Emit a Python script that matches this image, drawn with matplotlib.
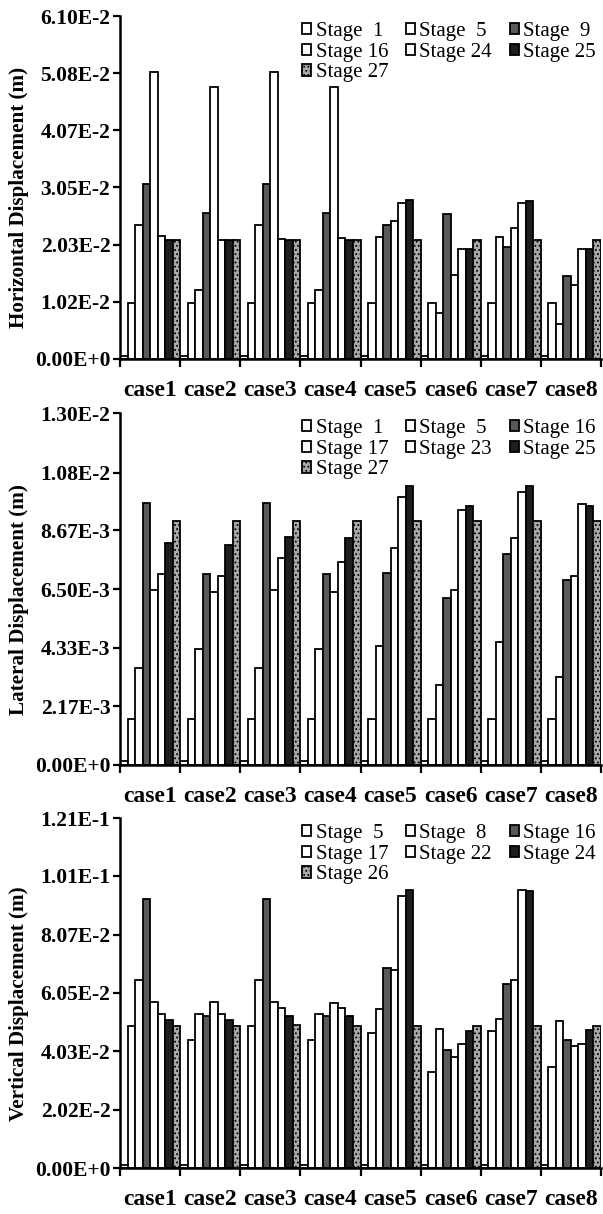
import matplotlib
matplotlib.use("Agg")
import matplotlib.pyplot as plt
import numpy as np

cases = ["case1", "case2", "case3", "case4", "case5", "case6", "case7", "case8"]

# ---- Panel 1: Horizontal displacement ----
h_labels = ["Stage  1", "Stage  5", "Stage  9", "Stage 16", "Stage 24", "Stage 25", "Stage 27"]
h_base = [0.0005] * 8
h_s1 = [0.0100, 0.0100, 0.0100, 0.0100, 0.0100, 0.0100, 0.0100, 0.0100]
h_s5 = [0.0239, 0.0122, 0.0239, 0.0122, 0.0217, 0.0082, 0.0217, 0.0062]
h_s9 = [0.0311, 0.0259, 0.0311, 0.0259, 0.0239, 0.0257, 0.0199, 0.0147]
h_s16 = [0.0510, 0.0484, 0.0510, 0.0484, 0.0245, 0.0150, 0.0233, 0.0131]
h_s24 = [0.0218, 0.0212, 0.0214, 0.0216, 0.0278, 0.0195, 0.0278, 0.0195]
h_s25 = [0.0212, 0.0212, 0.0212, 0.0212, 0.0282, 0.0195, 0.0281, 0.0195]
h_s27 = [0.0212, 0.0212, 0.0212, 0.0212, 0.0212, 0.0212, 0.0212, 0.0212]
h_ticks = [0.0, 0.0102, 0.0203, 0.0305, 0.0407, 0.0508, 0.0610]
h_ticklabels = ["0.00E+0", "1.02E-2", "2.03E-2", "3.05E-2", "4.07E-2", "5.08E-2", "6.10E-2"]

# ---- Panel 2: Lateral displacement ----
l_labels = ["Stage  1", "Stage  5", "Stage 16", "Stage 17", "Stage 23", "Stage 25", "Stage 27"]
l_base = [0.00013] * 8
l_s1 = [0.00171, 0.00171, 0.00171, 0.00171, 0.00171, 0.00171, 0.00171, 0.00171]
l_s5 = [0.00357, 0.00428, 0.00357, 0.00428, 0.00438, 0.00297, 0.00455, 0.00324]
l_s16 = [0.00967, 0.00704, 0.00967, 0.00704, 0.00710, 0.00618, 0.00781, 0.00685]
l_s17 = [0.00646, 0.00640, 0.00646, 0.00640, 0.00802, 0.00645, 0.00838, 0.00698]
l_s23 = [0.00704, 0.00698, 0.00765, 0.00750, 0.00991, 0.00942, 0.01010, 0.00965]
l_s25 = [0.00820, 0.00812, 0.00841, 0.00838, 0.01031, 0.00955, 0.01031, 0.00955]
l_s27 = [0.00900, 0.00900, 0.00900, 0.00900, 0.00900, 0.00900, 0.00900, 0.00900]
l_ticks = [0.0, 0.00217, 0.00433, 0.00650, 0.00867, 0.0108, 0.0130]
l_ticklabels = ["0.00E+0", "2.17E-3", "4.33E-3", "6.50E-3", "8.67E-3", "1.08E-2", "1.30E-2"]

# ---- Panel 3: Vertical displacement ----
v_labels = ["Stage  5", "Stage  8", "Stage 16", "Stage 17", "Stage 22", "Stage 24", "Stage 26"]
v_base = [0.0010] * 8
v_s5 = [0.0492, 0.0441, 0.0492, 0.0441, 0.0467, 0.0331, 0.0472, 0.0348]
v_s8 = [0.0651, 0.0532, 0.0651, 0.0532, 0.0550, 0.0481, 0.0516, 0.0509]
v_s16 = [0.0931, 0.0527, 0.0931, 0.0527, 0.0691, 0.0407, 0.0637, 0.0441]
v_s17 = [0.0573, 0.0573, 0.0573, 0.0570, 0.0686, 0.0384, 0.0651, 0.0421]
v_s22 = [0.0532, 0.0532, 0.0553, 0.0553, 0.0939, 0.0430, 0.0962, 0.0430]
v_s24 = [0.0513, 0.0513, 0.0524, 0.0524, 0.0960, 0.0472, 0.0959, 0.0478]
v_s26 = [0.0490, 0.0490, 0.0493, 0.0490, 0.0490, 0.0492, 0.0492, 0.0490]
v_ticks = [0.0, 0.0202, 0.0403, 0.0605, 0.0807, 0.101, 0.121]
v_ticklabels = ["0.00E+0", "2.02E-2", "4.03E-2", "6.05E-2", "8.07E-2", "1.01E-1", "1.21E-1"]

SERIF = "Liberation Serif"
W, H = 603, 1214
fig = plt.figure(figsize=(W / 100, H / 100), dpi=100)

styles = [
    dict(facecolor="white"),
    dict(facecolor="white"),
    dict(facecolor="#5a5a5a"),
    dict(facecolor="white"),
    dict(facecolor="white"),
    dict(facecolor="#1e1e1e"),
    dict(facecolor="#a8a8a8", hatch="...."),
]

plt.rcParams["hatch.color"] = "#555555"
plt.rcParams["hatch.linewidth"] = 0.8

AX_L, AX_R = 120, 601


def panel(top_px, bottom_px, base, series, labels, ticks, ticklabels, ylabel):
    hpx = bottom_px - top_px
    ax = fig.add_axes([AX_L / W, 1 - bottom_px / H, (AX_R - AX_L) / W, hpx / H])
    n = len(cases)
    idx = np.arange(n)
    nb = len(series) + 1
    bw = 1.0 / nb
    ax.bar(idx + 0.5 * bw, base, width=bw, facecolor="white", edgecolor="black", linewidth=1.3)
    handles = []
    for k, (vals, lab) in enumerate(zip(series, labels)):
        b = ax.bar(idx + (k + 1.5) * bw, vals, width=bw, edgecolor="black", linewidth=1.3,
                   label=lab, **styles[k])
        handles.append(b)
    ax.set_xlim(0, n)
    ax.set_ylim(0, ticks[-1])
    ax.set_yticks(ticks)
    ax.set_yticklabels(ticklabels, fontfamily=SERIF, fontweight="bold", fontsize=15.5)
    ax.set_xticks(np.arange(n + 1))
    ax.set_xticklabels([])
    ax.set_xticks(idx + 0.5, minor=True)
    ax.set_xticklabels(cases, minor=True, fontfamily=SERIF, fontweight="bold", fontsize=17)
    ax.tick_params(axis="x", which="minor", length=0, pad=15)
    ax.tick_params(axis="x", which="major", length=6, width=1.6, direction="out")
    ax.tick_params(axis="y", length=5, width=1.6, direction="out", pad=2)
    for s in ["top", "right"]:
        ax.spines[s].set_visible(False)
    for s in ["left", "bottom"]:
        ax.spines[s].set_linewidth(1.8)
    ax.set_ylabel(ylabel, fontfamily=SERIF, fontweight="bold", fontsize=15.2)
    ax.yaxis.set_label_coords(-(AX_L - 29) / (AX_R - AX_L), 0.47)
    order = [0, 3, 6, 1, 4, 2, 5]
    ax.legend([handles[i] for i in order], [labels[i] for i in order], ncol=3,
              loc="upper left", bbox_to_anchor=((302 - AX_L) / (AX_R - AX_L), 1 - 6 / hpx),
              frameon=False, prop=dict(family=SERIF, size=15),
              handlelength=0.45, handleheight=0.45, handletextpad=0.2,
              columnspacing=0.85, labelspacing=0.08, borderpad=0, borderaxespad=0)
    return ax


panel(16, 359, h_base, [h_s1, h_s5, h_s9, h_s16, h_s24, h_s25, h_s27], h_labels,
      h_ticks, h_ticklabels, "Horizontal Displacement (m)")
panel(413, 765, l_base, [l_s1, l_s5, l_s16, l_s17, l_s23, l_s25, l_s27], l_labels,
      l_ticks, l_ticklabels, "Lateral Displacement (m)")
panel(818, 1168, v_base, [v_s5, v_s8, v_s16, v_s17, v_s22, v_s24, v_s26], v_labels,
      v_ticks, v_ticklabels, "Vertical Displacement (m)")

fig.savefig("out.png", dpi=100)
